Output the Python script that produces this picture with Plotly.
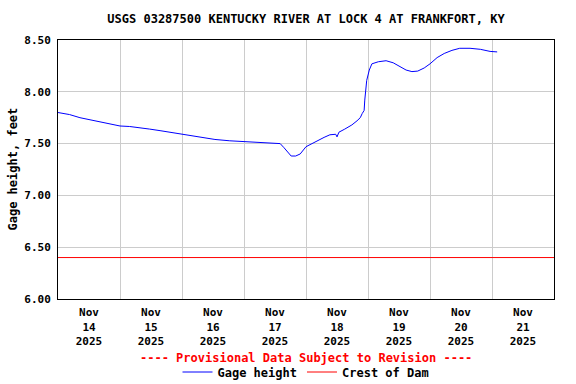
import plotly.graph_objects as go

title = "USGS 03287500 KENTUCKY RIVER AT LOCK 4 AT FRANKFORT, KY"

times = [
    "2025-11-14 00:00", "2025-11-14 04:30", "2025-11-14 08:30", "2025-11-14 12:30",
    "2025-11-14 16:15", "2025-11-14 20:00", "2025-11-15 00:00", "2025-11-15 03:45",
    "2025-11-15 07:45", "2025-11-15 11:30", "2025-11-15 15:30", "2025-11-15 19:15",
    "2025-11-16 00:00", "2025-11-16 05:00", "2025-11-16 09:00", "2025-11-16 12:45",
    "2025-11-16 18:30", "2025-11-17 00:00", "2025-11-17 06:15", "2025-11-17 12:00",
    "2025-11-17 14:00", "2025-11-17 15:30", "2025-11-17 17:00", "2025-11-17 18:15",
    "2025-11-17 20:00", "2025-11-17 21:45", "2025-11-18 00:00", "2025-11-18 02:15",
    "2025-11-18 04:30", "2025-11-18 07:00", "2025-11-18 09:15", "2025-11-18 11:30",
    "2025-11-18 12:00", "2025-11-18 12:45", "2025-11-18 15:00", "2025-11-18 17:45",
    "2025-11-18 19:45", "2025-11-18 21:00", "2025-11-18 21:45", "2025-11-18 22:30",
    "2025-11-18 22:45", "2025-11-18 23:15", "2025-11-18 23:30", "2025-11-19 00:30",
    "2025-11-19 01:30", "2025-11-19 04:00", "2025-11-19 07:00", "2025-11-19 09:45",
    "2025-11-19 12:30", "2025-11-19 14:45", "2025-11-19 17:00", "2025-11-19 19:15",
    "2025-11-19 21:45", "2025-11-20 00:00", "2025-11-20 02:45", "2025-11-20 05:30",
    "2025-11-20 08:30", "2025-11-20 11:30", "2025-11-20 15:30", "2025-11-20 19:30",
    "2025-11-20 23:15", "2025-11-21 02:00",
]
gage_height = [
    7.80, 7.78, 7.75, 7.73,
    7.71, 7.69, 7.67, 7.665,
    7.655, 7.64, 7.625, 7.61,
    7.59, 7.57, 7.555, 7.54,
    7.527, 7.52, 7.515, 7.507,
    7.50, 7.46, 7.41, 7.38,
    7.38, 7.40, 7.47, 7.50,
    7.53, 7.56, 7.585, 7.59,
    7.565, 7.61, 7.64, 7.68,
    7.72, 7.75, 7.79, 7.82,
    7.92, 8.02, 8.11, 8.21,
    8.27, 8.29, 8.30, 8.28,
    8.24, 8.21, 8.195, 8.20,
    8.23, 8.27, 8.33, 8.37,
    8.40, 8.42, 8.42, 8.41,
    8.39, 8.385,
]

dam_times = ["2025-11-14 00:00", "2025-11-22 00:00"]
dam_crest = [6.40, 6.40]

y_ticks = [6.0, 6.5, 7.0, 7.5, 8.0, 8.5]

FONT = "DejaVu Sans Mono"
H_PLOT = 384 - 40 - 85

fig = go.Figure()
fig.add_trace(go.Scatter(x=times, y=gage_height, mode="lines", name="Gage height",
                         line=dict(color="#0000ff", width=1)))
fig.add_trace(go.Scatter(x=dam_times, y=dam_crest, mode="lines", name="Crest of Dam",
                         line=dict(color="#ff0000", width=1)))

fig.update_layout(
    width=576, height=384,
    margin=dict(l=58, r=22, t=40, b=85, autoexpand=False),
    paper_bgcolor="white", plot_bgcolor="white",
    font=dict(family=FONT, size=12, color="black", weight="bold"),
    title=dict(text=title, x=0.5, xref="paper", xanchor="center",
               yref="container", y=1 - 19 / 384, yanchor="middle",
               font=dict(family=FONT, size=12, color="black", weight="bold")),
    showlegend=True,
    legend=dict(orientation="h", x=0.5, xanchor="center",
                y=-(372 - 299) / H_PLOT, yanchor="middle",
                font=dict(family=FONT, size=12, color="black", weight="bold"),
                itemwidth=30, bgcolor="rgba(0,0,0,0)", tracegroupgap=0),
    annotations=[
        dict(text="---- Provisional Data Subject to Revision ----",
             xref="paper", yref="paper", x=0.5, y=-(358 - 299) / H_PLOT, showarrow=False,
             font=dict(family=FONT, size=12, color="#ff0000", weight="bold"),
             xanchor="center", yanchor="middle"),
        dict(text="Gage height, feet", textangle=-90,
             xref="paper", yref="paper", x=-(58 - 12) / 496, y=0.5, showarrow=False,
             font=dict(family=FONT, size=12, color="black", weight="bold"),
             xanchor="center", yanchor="middle"),
    ],
)

fig.update_xaxes(
    range=["2025-11-14 00:00", "2025-11-22 00:00"],
    dtick=86400000, tick0="2025-11-14",
    ticklabelmode="period", tickformat="%b<br>%d<br>%Y",
    showgrid=True, gridcolor="#cccccc", gridwidth=1,
    showline=True, linecolor="black", linewidth=1, mirror=True,
    ticks="", ticklabelstandoff=3, automargin=False,
    tickfont=dict(family=FONT, size=11, color="black", weight="bold"),
    zeroline=False,
)
fig.update_yaxes(
    range=[6.0, 8.5], tickvals=y_ticks, tickformat=".2f",
    showgrid=True, gridcolor="#cccccc", gridwidth=1,
    showline=True, linecolor="black", linewidth=1, mirror=True,
    ticks="", ticklabelstandoff=4, automargin=False,
    tickfont=dict(family=FONT, size=11, color="black", weight="bold"),
    zeroline=False,
)

fig.write_html("out.html",
               config={"displayModeBar": False},
               post_script="document.body.style.margin='0';document.body.style.overflow='hidden';")
